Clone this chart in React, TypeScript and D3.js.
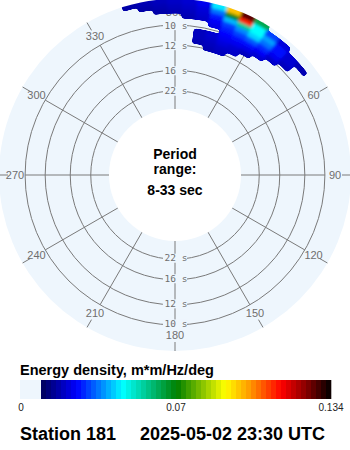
import React from 'react';
import * as d3 from 'd3';

// wave directions (deg, bin centres) and frequency bins (Hz, bin centres)
const directions = [-15, -10, -5, 0, 5, 10, 15, 20, 25, 30, 35, 40, 45, 50];
const freqs = [0.080, 0.084, 0.088, 0.092, 0.096, 0.100, 0.104, 0.108, 0.112, 0.116, 0.120];

// energy density per direction row, one value per frequency bin
const energy = [
  [0, 0, 0, 0, 0, 0, 0, 0, 0, 0, 0.008],
  [0, 0, 0, 0, 0, 0, 0, 0, 0, 0.008, 0.009],
  [0, 0, 0, 0, 0, 0, 0, 0, 0.008, 0.009, 0.010],
  [0, 0, 0, 0, 0, 0, 0, 0, 0.009, 0.010, 0.011],
  [0, 0, 0, 0, 0, 0, 0, 0.009, 0.010, 0.011, 0.012],
  [0, 0, 0.009, 0.010, 0.010, 0, 0, 0.011, 0.012, 0.013, 0.015],
  [0, 0.009, 0.010, 0.011, 0.012, 0, 0.014, 0.016, 0.019, 0.026, 0.036],
  [0, 0.010, 0.011, 0.013, 0.015, 0.017, 0.019, 0.022, 0.032, 0.062, 0.092],
  [0, 0, 0.011, 0.012, 0.015, 0.018, 0.022, 0.028, 0.048, 0.108, 0.126],
  [0, 0, 0, 0.010, 0.014, 0.018, 0.024, 0.034, 0.038, 0.038, 0.055],
  [0, 0, 0, 0, 0.012, 0.016, 0.020, 0.026, 0.030, 0.022, 0],
  [0, 0, 0, 0, 0, 0.011, 0.015, 0.018, 0.018, 0.013, 0],
  [0, 0, 0, 0, 0, 0, 0.010, 0.012, 0.012, 0, 0],
  [0, 0, 0, 0, 0, 0, 0, 0, 0.009, 0, 0],
];

const periodRings = [10, 12, 16, 22];
const bearings = [0, 30, 60, 90, 120, 150, 180, 210, 240, 270, 300, 330];
const bearingLabels = ['360', '30', '60', '90', '120', '150', '180', '210', '240', '270', '300', '330'];
const barTicks = ['0', '0.07', '0.134'];
const maxEnergy = 0.134;

const colorStops = [0, 0.0166, 0.0379, 0.0628, 0.085, 0.0965, 0.111, 0.1217, 0.134];
const colorRange = ['#000058', '#0000ff', '#00ffff', '#008000', '#ffff00', '#ff9900', '#ff0000', '#900000', '#000000'];

const BG = '#eef6fd';
const GRID = '#7a7a7a';

export default function App() {
  const cx = 175;
  const cy = 175;
  const rOuter = 176;
  const rInner = 66;

  const r = d3.scaleLinear().domain([1 / 33, 1 / 8]).range([rInner, 180]);
  const color = d3.scaleLinear<string>().domain(colorStops).range(colorRange).clamp(true);
  const rad = (deg: number) => (deg * Math.PI) / 180;
  const half = 0.002;

  const arc = d3.arc<any>();

  const cells: { d: string; fill: string }[] = [];
  directions.forEach((dir, i) => {
    freqs.forEach((f, j) => {
      const v = energy[i][j];
      if (!v) return;
      const outer = j === freqs.length - 1 ? rOuter + 4 : r(f + half);
      cells.push({
        d: arc({
          innerRadius: r(f - half),
          outerRadius: outer,
          startAngle: rad(dir - 2.5),
          endAngle: rad(dir + 2.5),
        })!,
        fill: color(v),
      });
    });
  });

  const ringMax = r(1 / periodRings[0]);
  const pt = (deg: number, rr: number) => [rr * Math.sin(rad(deg)), -rr * Math.cos(rad(deg))];

  // colour bar
  const barX0 = 20, barZero = 41, barX1 = 331, barY = 380, barH = 19;
  const steps = 58;
  const stepScale = d3.scaleLinear().domain([0, steps]).range([barZero, barX1]);
  const tickPos = d3.scalePoint<string>().domain(barTicks).range([barX0 + 1, barX1]);

  return (
    <svg width={350} height={450} style={{ position: 'fixed', left: 0, top: 0, background: '#fff' }}
      fontFamily="'Liberation Sans', Arial, sans-serif">
      <defs>
        <clipPath id="disc">
          <circle r={rOuter} />
        </clipPath>
        <filter id="smooth" x="-20%" y="-20%" width="140%" height="140%">
          <feGaussianBlur stdDeviation="1.8" />
          <feComponentTransfer>
            <feFuncA type="linear" slope="8" intercept="-3.5" />
          </feComponentTransfer>
        </filter>
      </defs>
      <g transform={`translate(${cx},${cy})`}>
        <circle r={rOuter} fill={BG} />
        {periodRings.map((p) => (
          <circle key={p} r={r(1 / p)} fill="none" stroke={GRID} strokeWidth={1} />
        ))}
        {bearings.map((b) => {
          const [x1, y1] = pt(b, rInner);
          const [x2, y2] = pt(b, ringMax);
          const [t1x, t1y] = pt(b, 167);
          const [t2x, t2y] = pt(b, 176);
          return (
            <g key={b}>
              <line x1={x1} y1={y1} x2={x2} y2={y2} stroke={GRID} strokeWidth={1} />
              <line x1={t1x} y1={t1y} x2={t2x} y2={t2y} stroke={GRID} strokeWidth={1} />
            </g>
          );
        })}
        {bearings.map((b, i) => {
          const [x, y] = pt(b, b === 0 ? 162.5 : 160);
          return (
            <text key={b} x={x} y={y} dy="0.35em" textAnchor="middle" fontSize={11} fill="#6e6e6e">
              {bearingLabels[i]}
            </text>
          );
        })}
        {periodRings.map((p) =>
          [-1, 1].map((s) => (
            <g key={`${p}${s}`} transform={`translate(0,${s * r(1 / p) + (s < 0 ? 0.5 : -1)})`}>
              <rect x={-12} y={-4.5} width={24} height={9} fill={BG} />
              <text x={1} dy="0.33em" textAnchor="middle" fontSize={9.5}
                fontFamily="'DejaVu Sans Mono', monospace" fill="#6e6e6e">
                {`${p} s`}
              </text>
            </g>
          ))
        )}
        <g clipPath="url(#disc)">
          <g filter="url(#smooth)">
            {cells.map((c, k) => (
              <path key={k} d={c.d} fill={c.fill} stroke={c.fill} strokeWidth={1} />
            ))}
          </g>
        </g>
        <circle r={rInner} fill="#fff" />
        <g fontWeight="bold" fontSize={14} textAnchor="middle" fill="#000">
          <text y={-16}>Period</text>
          <text y={-1}>range:</text>
          <text y={20}>8-33 sec</text>
        </g>
      </g>

      <text x={20} y={375} fontWeight="bold" fontSize={14.5}>Energy density, m*m/Hz/deg</text>
      <rect x={barX0} y={barY} width={barZero - barX0} height={barH} fill={BG} />
      {d3.range(steps).map((k) => (
        <rect key={k} x={stepScale(k)} y={barY} width={stepScale(k + 1) - stepScale(k) + 0.3} height={barH}
          fill={color(((k + 0.5) / steps) * maxEnergy)} />
      ))}
      {barTicks.map((t) => (
        <text key={t} x={tickPos(t)} y={411} textAnchor="middle" fontSize={10} fill="#222">{t}</text>
      ))}
      <text x={20} y={440} fontWeight="bold" fontSize={18}>Station 181</text>
      <text x={140} y={440} fontWeight="bold" fontSize={18}>2025-05-02 23:30 UTC</text>
    </svg>
  );
}
